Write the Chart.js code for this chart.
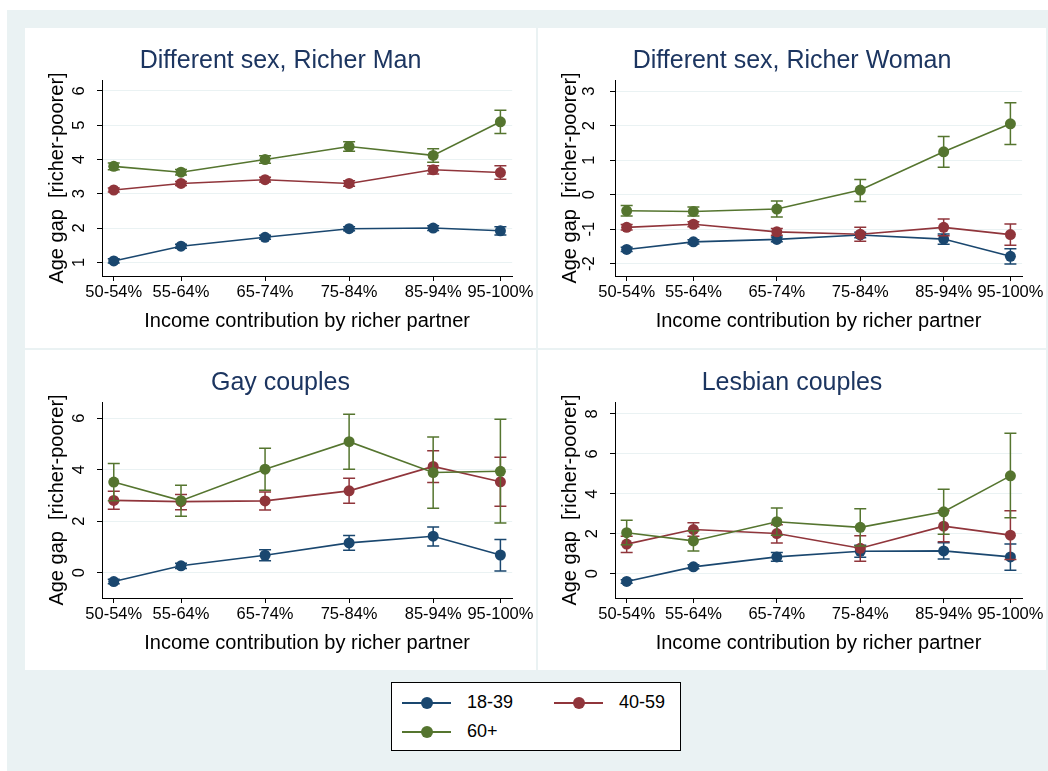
<!DOCTYPE html>
<html>
<head>
<meta charset="utf-8">
<script src="https://cdn.jsdelivr.net/npm/chart.js@4.4.1/dist/chart.umd.min.js"></script>
<style>
  body { margin: 0; background: #fff; font-family: "Liberation Sans", Arial, sans-serif; }
  #page { position: relative; width: 1048px; height: 771px; overflow: hidden; }
  #frame { position: absolute; left: 7px; top: 10px; width: 1041px; height: 761px; background: #eaf2f3; }
  .panel { position: absolute; background: #fff; }
  #legend { position: absolute; left: 391px; top: 682px; width: 288px; height: 67px;
            background: #fff; border: 1px solid #000; }
  .key { position: absolute; height: 2px; width: 49px; }
  .key span { position: absolute; left: 19px; top: -5px; width: 12px; height: 12px; border-radius: 50%; }
  .keytext { position: absolute; font-size: 18px; color: #000; line-height: 20px; }
</style>
</head>
<body>
<div id="page">
  <div id="frame"></div>
  <div class="panel" style="left:25px;top:28px;width:511px;height:320px"><canvas id="c1" width="511" height="320"></canvas></div>
  <div class="panel" style="left:538px;top:28px;width:508px;height:320px"><canvas id="c2" width="508" height="320"></canvas></div>
  <div class="panel" style="left:25px;top:350px;width:511px;height:320px"><canvas id="c3" width="511" height="320"></canvas></div>
  <div class="panel" style="left:538px;top:350px;width:508px;height:320px"><canvas id="c4" width="508" height="320"></canvas></div>
  <div id="legend"></div>
</div>

<script>
// categories (income share of richer partner) and their midpoints
const incomeLabels = ['50-54%', '55-64%', '65-74%', '75-84%', '85-94%', '95-100%'];
const incomeMid = [52, 60, 70, 80, 90, 98];
const ageGroups = ['18-39', '40-59', '60+'];
const ageColors = ['#1a476f', '#90353b', '#55752f'];

// Different sex, richer man
const manYoung = [1.04, 1.47, 1.73, 1.98, 2.00, 1.92];
const manYoungCI = [[0.98, 1.10], [1.41, 1.53], [1.67, 1.79], [1.92, 2.04], [1.93, 2.07], [1.80, 2.04]];
const manMid = [3.11, 3.30, 3.41, 3.30, 3.70, 3.62];
const manMidCI = [[3.05, 3.17], [3.24, 3.36], [3.34, 3.48], [3.22, 3.38], [3.58, 3.82], [3.42, 3.82]];
const manOld = [3.80, 3.63, 4.00, 4.38, 4.12, 5.10];
const manOldCI = [[3.70, 3.90], [3.55, 3.71], [3.89, 4.11], [4.24, 4.52], [3.92, 4.31], [4.76, 5.44]];

// Different sex, richer woman
const womanYoung = [-1.59, -1.37, -1.30, -1.17, -1.29, -1.79];
const womanYoungCI = [[-1.65, -1.53], [-1.43, -1.31], [-1.37, -1.23], [-1.25, -1.09], [-1.44, -1.14], [-2.01, -1.57]];
const womanMid = [-0.95, -0.86, -1.08, -1.15, -0.95, -1.16];
const womanMidCI = [[-1.03, -0.87], [-0.93, -0.79], [-1.18, -0.98], [-1.35, -0.95], [-1.19, -0.71], [-1.47, -0.85]];
const womanOld = [-0.47, -0.49, -0.42, 0.13, 1.24, 2.05];
const womanOldCI = [[-0.62, -0.32], [-0.62, -0.36], [-0.65, -0.19], [-0.20, 0.44], [0.79, 1.68], [1.45, 2.66]];

// Gay couples
const gayYoung = [-0.34, 0.27, 0.68, 1.16, 1.42, 0.69];
const gayYoungCI = [[-0.43, -0.25], [0.17, 0.37], [0.47, 0.89], [0.87, 1.45], [1.04, 1.78], [0.07, 1.29]];
const gayMid = [2.81, 2.76, 2.79, 3.18, 4.13, 3.53];
const gayMidCI = [[2.47, 3.16], [2.45, 3.04], [2.44, 3.14], [2.70, 3.67], [3.50, 4.74], [2.58, 4.48]];
const gayOld = [3.52, 2.80, 4.02, 5.09, 3.89, 3.94];
const gayOldCI = [[2.80, 4.24], [2.19, 3.40], [3.20, 4.83], [4.02, 6.15], [2.50, 5.27], [1.93, 5.96]];

// Lesbian couples
const lesYoung = [-0.39, 0.34, 0.84, 1.12, 1.14, 0.84];
const lesYoungCI = [[-0.48, -0.30], [0.24, 0.44], [0.62, 1.06], [0.82, 1.42], [0.73, 1.55], [0.17, 1.48]];
const lesMid = [1.48, 2.21, 2.01, 1.27, 2.38, 1.93];
const lesMidCI = [[1.06, 1.88], [1.87, 2.55], [1.54, 2.45], [0.62, 1.90], [1.60, 3.15], [0.71, 3.15]];
const lesOld = [2.05, 1.64, 2.60, 2.32, 3.10, 4.90];
const lesOldCI = [[1.45, 2.67], [1.14, 2.15], [1.93, 3.29], [1.38, 3.25], [1.98, 4.23], [2.80, 7.03]];

// y tick labels per panel
const manTicks = [1, 2, 3, 4, 5, 6];
const womanTicks = [-2, -1, 0, 1, 2, 3];
const gayTicks = [0, 2, 4, 6];
const lesTicks = [0, 2, 4, 6, 8];

Chart.defaults.font.family = '"Liberation Sans", Arial, sans-serif';
Chart.defaults.color = '#000';

// vertical confidence bars with caps, drawn right after each series
const errorBars = {
  id: 'errorBars',
  afterDatasetDraw(chart, args) {
    const ds = chart.data.datasets[args.index];
    if (!ds.ci) return;
    const xs = chart.scales.x, ys = chart.scales.y, ctx = chart.ctx;
    ctx.save();
    ctx.strokeStyle = ds.borderColor;
    ctx.lineWidth = 1.5;
    ds.ci.forEach((c, i) => {
      const px = xs.getPixelForValue(incomeMid[i]);
      const lo = ys.getPixelForValue(c[0]);
      const hi = ys.getPixelForValue(c[1]);
      ctx.beginPath();
      ctx.moveTo(px, lo); ctx.lineTo(px, hi);
      ctx.moveTo(px - 6, lo); ctx.lineTo(px + 6, lo);
      ctx.moveTo(px - 6, hi); ctx.lineTo(px + 6, hi);
      ctx.stroke();
    });
    ctx.restore();
  }
};

function series(means, cis) {
  return means.map((m, i) => ({
    label: ageGroups[i],
    data: incomeMid.map((x, j) => ({ x: x, y: m[j] })),
    ci: cis[i],
    borderColor: ageColors[i],
    backgroundColor: ageColors[i],
    pointBackgroundColor: ageColors[i],
    pointBorderWidth: 0,
    pointRadius: 5.5,
    borderWidth: 1.6,
    tension: 0,
    clip: false,
    order: 2 - i
  }));
}

function makePanel(id, title, datasets, yMin, yMax, yTicks) {
  return new Chart(document.getElementById(id), {
    type: 'line',
    data: { datasets: datasets },
    plugins: [errorBars],
    options: {
      responsive: false,
      animation: false,
      layout: { padding: { left: 20, right: 20, top: 0, bottom: 0 } },
      plugins: {
        legend: { display: false },
        tooltip: { enabled: false },
        title: {
          display: true,
          text: title,
          color: '#1c3560',
          font: { size: 25, weight: 'normal' },
          padding: { top: 18, bottom: 4 }
        }
      },
      scales: {
        x: {
          type: 'linear',
          min: 50.6,
          max: 99.4,
          afterBuildTicks: s => { s.ticks = incomeMid.map(v => ({ value: v })); },
          afterFit: s => { s.height = 72; },
          ticks: {
            callback: v => incomeLabels[incomeMid.indexOf(v)],
            font: { size: 16.5 },
            padding: 2,
            maxRotation: 0,
            autoSkip: false
          },
          grid: { drawOnChartArea: false, drawTicks: true, tickLength: 5, tickColor: '#000' },
          border: { color: '#000', width: 1 },
          title: {
            display: true,
            text: 'Income contribution by richer partner',
            font: { size: 20 },
            padding: { top: 0, bottom: 15 }
          }
        },
        y: {
          min: yMin,
          max: yMax,
          afterBuildTicks: s => { s.ticks = yTicks.map(v => ({ value: v })); },
          afterFit: s => { s.width = 57; },
          ticks: {
            font: { size: 16.5 },
            minRotation: 90,
            maxRotation: 90,
            crossAlign: 'center',
            padding: 13
          },
          grid: { color: '#eaf2f3', lineWidth: 1, drawTicks: true, tickLength: 5, tickColor: '#000' },
          border: { color: '#000', width: 1 },
          title: {
            display: true,
            text: 'Age gap  [richer-poorer]',
            font: { size: 20 },
            padding: { top: 0, bottom: 0 }
          }
        }
      }
    }
  });
}

makePanel('c1', 'Different sex, Richer Man',
  series([manYoung, manMid, manOld], [manYoungCI, manMidCI, manOldCI]), 0.6, 6.32, manTicks);
makePanel('c2', 'Different sex, Richer Woman',
  series([womanYoung, womanMid, womanOld], [womanYoungCI, womanMidCI, womanOldCI]), -2.36, 3.32, womanTicks);
makePanel('c3', 'Gay couples',
  series([gayYoung, gayMid, gayOld], [gayYoungCI, gayMidCI, gayOldCI]), -0.98, 6.63, gayTicks);
makePanel('c4', 'Lesbian couples',
  series([lesYoung, lesMid, lesOld], [lesYoungCI, lesMidCI, lesOldCI]), -1.22, 8.6, lesTicks);

// shared legend
const legend = document.getElementById('legend');
const keyPos = [[10, 19], [162, 19], [10, 48]];
ageGroups.forEach((g, i) => {
  const [lx, ly] = keyPos[i];
  const k = document.createElement('div');
  k.className = 'key';
  k.style.left = lx + 'px';
  k.style.top = ly + 'px';
  k.style.background = ageColors[i];
  const dot = document.createElement('span');
  dot.style.background = ageColors[i];
  k.appendChild(dot);
  legend.appendChild(k);
  const t = document.createElement('div');
  t.className = 'keytext';
  t.style.left = (lx + 65) + 'px';
  t.style.top = (ly - 10) + 'px';
  t.textContent = g;
  legend.appendChild(t);
});
</script>
</body>
</html>
